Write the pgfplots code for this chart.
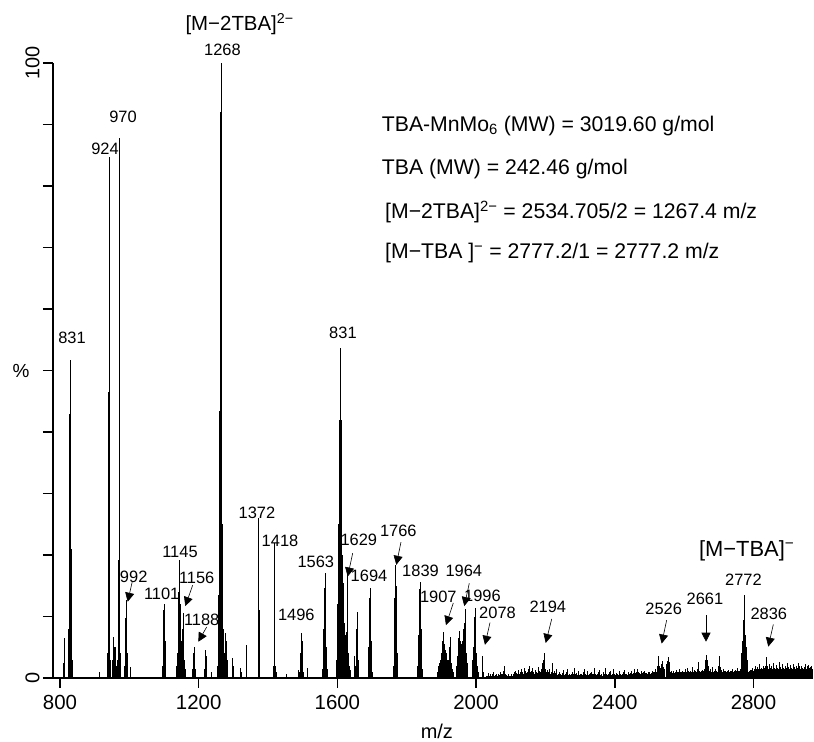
\documentclass[border=0pt]{standalone}
\usepackage{pgfplots}
\pgfplotsset{compat=1.18}
\usepackage{fontspec}
\setmainfont{Liberation Sans}
\usetikzlibrary{arrows.meta}
\newcommand{\fs}[1]{\fontsize{#1}{#1}\selectfont}
\begin{document}
\begin{tikzpicture}
\begin{axis}[
  at={(0,0)}, anchor=south west,
  scale only axis, width=760bp, height=615bp,
  xmin=779.8, xmax=2971.7, ymin=0, ymax=100,
  axis x line*=bottom, axis y line*=left,
  axis line style={line width=1.6bp, black},
  tick align=outside, major tick length=10bp,
  every tick/.style={line width=1.6bp, black},
  xtick={800,1200,1600,2000,2400,2800},
  xticklabels={800,1200,1600,2000,2400,2800},
  ytick={0,10,...,100},
  yticklabels={0,,,,,,,,,,100},
  xticklabel style={font=\fs{20.5}, yshift=-4bp},
  yticklabel style={font=\fs{20}, rotate=90, anchor=south},
  xlabel={m/z}, xlabel style={font=\fs{20}, at={(axis description cs:0.505,-0.086)}, anchor=center},
  ylabel={\%}, ylabel style={font=\fs{19}, rotate=-90, at={(axis description cs:-0.042,0.5)}, anchor=center},
  clip=false,
]
% isotope clusters
\addplot[ycomb, no markers, line width=0.65bp, black] table {
810 2.5
812 6.5
813 3
824 3
825 8
826 21
827 30
828 43
829 43
830 43
831 51.7
832 21
833 12
834 6
835 3
836 1.5
913 1
936 2
937 4
938 9.4
939 20
940 46.5
941 84.7
942 46.5
943 9
944 3
952 3
953 5
954 6.7
955 5
957 4
958 5
959 5
960 4
962 2
966 3
967 8
968 19.2
969 19.2
970 87.8
971 19
972 10
973 4
974 2
986 2
987 4
988 9.8
989 9.8
990 12.7
991 9
992 5.7
993 4
994 2
1002 1.8
1096 2
1097 5
1098 9
1099 11
1100 12
1101 12
1102 10
1103 6
1104 3
1105 1.5
1136 2
1138 4
1140 7
1141 10
1142 14
1143 16.4
1144 16.4
1145 19.2
1146 12
1147 9
1148 7
1149 6
1150 6
1151 5
1152 6
1153 7
1154 8
1155 9
1156 10.5
1157 6
1158 3
1160 1.5
1182 1.5
1184 3
1185 4
1186 5
1187 4.5
1188 3
1189 1.5
1216 1.5
1218 3
1219 4
1220 4.5
1221 3.5
1222 2
1223 1
1235 1
1255 2
1256 4
1257 8
1258 13.5
1259 20
1260 43.4
1261 60
1262 92
1263 92
1264 100
1265 92
1266 43.4
1267 25
1268 13.5
1269 10
1270 8
1271 6
1272 5
1274 4
1276 5
1277 6
1278 7.3
1279 6
1280 4
1282 3
1284 2
1296 1.5
1298 3.2
1299 2
1320 1.6
1322 1
1337 1
1338 5.4
1371 3
1372 11
1373 26
1374 11
1375 3
1416 2
1417 8.3
1418 21.9
1419 8.3
1420 2
1422 1.8
1423 1
1452 0.6
1487 1.3
1490 1
1492 2
1494 4
1495 6
1496 7
1497 7.3
1498 6
1499 4
1500 2.5
1502 1
1513 1.6
1556 1.5
1558 3
1559 5
1560 8
1561 11.5
1562 14.6
1563 14.6
1564 17
1565 11.5
1566 8
1567 5
1568 3
1570 1.5
1598 3
1600 8
1601 12
1602 16
1603 20.8
1604 25
1605 30
1606 36.6
1607 42
1608 42
1609 53.7
1610 42
1611 36.6
1612 25
1613 20
1614 16
1615 12
1616 15.4
1617 10
1618 13
1619 9
1620 8
1622 7
1624 6
1626 5
1627 7.5
1628 8
1629 17.2
1630 6
1632 4
1634 2
1638 1.3
1648 3.6
1652 2
1654 5.7
1655 6
1656 8
1657 10.7
1658 6
1659 3
1660 1.5
1688 2
1690 5
1691 8
1692 11
1693 13
1694 14.6
1695 12
1696 9
1697 6
1698 4
1699 2
1701 1
1761 2
1763 5
1764 9
1765 13
1766 16
1767 17
1768 18.4
1769 15
1770 11
1771 7
1772 4
1774 2
1831 2
1833 4
1834 7
1835 10
1836 13
1837 14.5
1838 15.6
1839 14
1840 11
1841 8
1842 5
1843 3
1845 1.5
1888 1
1890 2
1893 2.5
1896 3
1899 3.5
1901 4
1903 6
1905 7.4
1907 5.5
1909 4
1911 4.5
1913 3.5
1915 4
1917 3
1919 2.5
1921 3
1923 5
1925 6.7
1927 4
1929 2.5
1931 1.5
1933 1
1942 1
1944 2
1946 3.5
1948 5
1950 6.5
1952 7.7
1954 6
1956 5
1958 5.5
1960 6
1962 7
1964 8
1966 9
1968 11.2
1970 6
1972 4
1974 2.5
1976 1
1988 1.5
1990 3
1992 5
1994 7
1995 9
1996 10
1997 11.4
1998 8
1999 6
2000 4
2002 3
2004 2
2006 1
2018 1.5
2019 3.6
2020 1
2188 1.5
2190 2
2192 2.5
2194 3
2196 4
2198 2.5
2200 1.5
2522 1.5
2524 2
2526 2.4
2527 3.6
2529 2
2531 1.6
2534 2.2
2537 2.8
2540 1.8
2544 1.5
2548 2.2
2551 2.8
2554 3.4
2556 2.6
2558 1.6
2656 1.2
2658 1.5
2660 2.5
2662 3
2664 3.5
2665 3.7
2667 3
2669 2
2671 1
2760 1.2
2762 1.5
2764 2.5
2766 4
2768 6
2770 8
2772 9.4
2773 9.4
2774 13.5
2775 9
2777 7
2779 5
2781 3
2783 2
2785 1
};
% baseline noise
\addplot[ycomb, no markers, line width=0.5bp, black] table {
2030 0.4
2034 0.8
2038 0.3
2042 0.6
2046 0.5
2050 0.9
2054 0.4
2058 0.7
2062 0.3
2066 0.5
2070 1.0
2074 0.6
2078 1.2
2080 2.0
2082 1.0
2086 0.5
2090 0.4
2094 0.7
2098 0.3
2102 0.6
2106 0.5
2110 0.9
2114 1.1
2118 0.6
2122 1.3
2126 0.8
2130 1.5
2134 1.0
2138 1.7
2142 1.2
2146 0.8
2150 1.4
2154 1.9
2158 1.1
2162 1.6
2166 0.9
2170 1.3
2174 1.0
2178 1.8
2182 1.2
2186 1.0
2204 1.3
2208 0.9
2212 1.4
2216 1.0
2221 2.4
2224 1.2
2228 0.8
2232 1.5
2236 0.6
2240 1.0
2244 0.5
2248 0.8
2252 1.3
2256 0.6
2260 0.9
2264 1.4
2268 0.7
2272 0.5
2276 1.0
2280 0.6
2284 1.6
2288 0.8
2292 0.5
2296 1.1
2300 0.7
2304 0.4
2308 0.9
2312 1.5
2316 0.6
2320 1.2
2324 0.5
2328 0.8
2332 1.0
2336 0.6
2340 1.7
2344 0.7
2348 0.5
2352 0.9
2356 1.3
2360 0.6
2364 0.4
2368 1.0
2372 1.6
2376 0.7
2380 0.5
2384 0.9
2388 1.2
2392 0.6
2396 1.4
2400 0.5
2404 0.8
2408 0.4
2412 1.1
2416 0.6
2420 0.5
2424 0.9
2428 1.3
2432 0.7
2436 0.5
2440 1.0
2444 0.6
2448 1.2
2452 0.8
2456 1.4
2460 0.7
2464 1.5
2468 0.9
2472 0.6
2476 1.1
2480 0.7
2484 1.2
2488 0.8
2492 0.6
2496 1.0
2500 0.8
2504 0.6
2508 1.1
2512 0.9
2516 1.4
2520 1.0
2562 1.2
2566 0.8
2570 1.1
2574 0.9
2578 1.3
2582 1.0
2586 1.5
2590 0.8
2594 1.2
2598 0.9
2602 1.4
2606 1.0
2610 1.6
2614 0.9
2618 1.2
2622 1.8
2626 1.0
2630 1.3
2634 0.9
2638 1.5
2641 2.6
2644 1.2
2648 0.9
2652 1.3
2674 1.4
2678 1.0
2682 1.8
2686 1.2
2690 1.5
2694 1.1
2697 2.0
2700 3.6
2703 1.8
2706 1.3
2710 1.0
2714 1.4
2718 1.2
2722 0.9
2726 1.3
2730 1.0
2734 1.2
2738 1.5
2742 0.9
2746 1.3
2750 1.1
2754 1.6
2758 1.2
2788 1.0
2791 1.3
2794 0.9
2797 1.6
2800 1.2
2803 1.5
2806 2.0
2809 1.4
2812 1.8
2815 1.2
2818 2.2
2821 1.6
2824 1.4
2827 2.0
2830 1.7
2833 1.9
2836 2.6
2838 3.4
2840 2.0
2843 1.5
2846 2.2
2849 1.6
2852 1.9
2855 1.3
2858 2.4
2861 1.7
2864 1.4
2867 2.1
2870 1.6
2873 2.6
2876 1.8
2879 1.5
2882 2.2
2885 1.7
2888 1.3
2891 2.0
2894 1.6
2897 2.4
2900 1.8
2903 1.4
2906 2.1
2909 1.7
2912 1.3
2915 2.3
2918 1.8
2921 1.5
2924 2.0
2927 1.6
2930 2.5
2933 1.9
2936 1.4
2939 2.0
2942 1.6
2945 1.8
2948 2.2
2951 1.5
2954 1.9
2957 2.1
2960 1.6
2963 1.8
2966 2.0
2969 1.5
};
% dense low baseline
\addplot[ycomb, no markers, line width=0.5bp, black] table {
2032 0.3
2036 0.5
2040 0.4
2044 0.3
2048 0.6
2052 0.4
2056 0.5
2060 0.3
2064 0.6
2068 0.4
2072 0.5
2076 0.7
2084 0.6
2088 0.4
2092 0.5
2096 0.3
2100 0.5
2104 0.4
2108 0.6
2112 0.5
2116 0.8
2120 0.6
2124 0.7
2128 0.9
2132 0.8
2136 0.7
2140 0.9
2144 0.8
2148 1.0
2152 0.7
2156 0.9
2160 0.8
2164 1.0
2168 0.7
2172 0.9
2176 0.8
2180 1.0
2184 0.7
2202 0.9
2206 0.7
2210 0.8
2214 0.6
2218 0.9
2222 0.8
2226 0.6
2230 0.7
2234 0.5
2238 0.7
2242 0.6
2246 0.5
2250 0.7
2254 0.5
2258 0.6
2262 0.8
2266 0.5
2270 0.6
2274 0.7
2278 0.5
2282 0.6
2286 0.7
2290 0.4
2294 0.6
2298 0.5
2302 0.6
2306 0.5
2310 0.7
2314 0.6
2318 0.5
2322 0.7
2326 0.6
2330 0.5
2334 0.7
2338 0.6
2342 0.8
2346 0.5
2350 0.6
2354 0.7
2358 0.5
2362 0.6
2366 0.5
2370 0.7
2374 0.6
2378 0.5
2382 0.7
2386 0.6
2390 0.5
2394 0.7
2398 0.6
2402 0.5
2406 0.6
2410 0.5
2414 0.7
2418 0.5
2422 0.6
2426 0.7
2430 0.6
2434 0.5
2438 0.7
2442 0.6
2446 0.8
2450 0.6
2454 0.7
2458 0.8
2462 0.9
2466 0.7
2470 0.8
2474 0.7
2478 0.8
2482 0.9
2486 0.7
2490 0.8
2494 0.7
2498 0.9
2502 0.7
2506 0.8
2510 0.7
2514 0.9
2518 0.8
2560 0.9
2564 0.8
2568 1.0
2572 0.8
2576 0.9
2580 1.0
2584 0.8
2588 1.0
2592 0.9
2596 1.1
2600 0.9
2604 1.0
2608 0.9
2612 1.1
2616 1.0
2620 0.9
2624 1.1
2628 1.0
2632 1.2
2636 1.0
2640 1.1
2646 1.0
2650 1.1
2654 1.0
2672 1.1
2676 1.0
2680 1.2
2684 1.0
2688 1.1
2692 1.2
2696 1.0
2702 1.1
2704 1.0
2708 1.2
2712 1.0
2716 1.1
2720 1.0
2724 1.1
2728 0.9
2732 1.0
2736 1.1
2740 1.0
2744 1.1
2748 0.9
2752 1.0
2756 1.1
2787 0.9
2789 1.2
2792 1.1
2795 1.3
2798 1.1
2801 1.3
2804 1.2
2807 1.4
2810 1.2
2813 1.4
2816 1.3
2819 1.5
2822 1.2
2825 1.4
2828 1.3
2831 1.5
2834 1.4
2837 1.6
2841 1.3
2844 1.5
2847 1.4
2850 1.3
2853 1.5
2856 1.2
2859 1.4
2862 1.3
2865 1.5
2868 1.2
2871 1.4
2874 1.3
2877 1.5
2880 1.2
2883 1.4
2886 1.3
2889 1.5
2892 1.2
2895 1.4
2898 1.3
2901 1.5
2904 1.2
2907 1.4
2910 1.3
2913 1.5
2916 1.2
2919 1.4
2922 1.3
2925 1.5
2928 1.2
2931 1.4
2934 1.3
2937 1.5
2940 1.2
2943 1.4
2946 1.3
2949 1.5
2952 1.2
2955 1.4
2958 1.3
2961 1.5
2964 1.2
2967 1.4
2970 1.3
};
% peak labels
\begin{scope}[every node/.style={font=\fs{16.5}, inner sep=0pt}]
\node at (axis cs:1268.6,102.1) {1268};
\node at (axis cs:981.7,91.2) {970};
\node at (axis cs:929.8,86.0) {924};
\node at (axis cs:834.6,55.3) {831};
\node at (axis cs:1616,56.1) {831};
\node at (axis cs:1012.5,16.4) {992};
\node at (axis cs:1093.3,13.7) {1101};
\node at (axis cs:1146,20.5) {1145};
\node at (axis cs:1194.2,16.3) {1156};
\node at (axis cs:1208.7,9.4) {1188};
\node at (axis cs:1368.1,26.8) {1372};
\node at (axis cs:1434.5,22.3) {1418};
\node at (axis cs:1481.5,10.2) {1496};
\node at (axis cs:1537.7,18.9) {1563};
\node at (axis cs:1661.7,22.4) {1629};
\node at (axis cs:1691.2,16.6) {1694};
\node at (axis cs:1775.7,23.9) {1766};
\node at (axis cs:1839.7,17.4) {1839};
\node at (axis cs:1891.0,13.2) {1907};
\node at (axis cs:1964.6,17.4) {1964};
\node at (axis cs:2018.5,13.3) {1996};
\node at (axis cs:2061.8,10.6) {2078};
\node at (axis cs:2206.8,11.5) {2194};
\node at (axis cs:2541.1,11.3) {2526};
\node at (axis cs:2660.2,12.8) {2661};
\node at (axis cs:2771.2,15.9) {2772};
\node at (axis cs:2844.2,10.4) {2836};
\end{scope}
% arrows
\begin{scope}[line width=0.6bp, -{Triangle[width=9bp,length=9bp]}]
\draw (axis cs:1008.5,15.7) -- (axis cs:995.2,12.4);
\draw (axis cs:1182.7,15.1) -- (axis cs:1161.4,11.7);
\draw (axis cs:1223.1,8.3) -- (axis cs:1198.9,5.9);
\draw (axis cs:1644.1,20.3) -- (axis cs:1629.7,16.5);
\draw (axis cs:1783.4,22.1) -- (axis cs:1769.9,18.4);
\draw (axis cs:1934.3,12.2) -- (axis cs:1913.2,8.6);
\draw (axis cs:1980.4,15.4) -- (axis cs:1966.0,11.7);
\draw (axis cs:2040.1,9.0) -- (axis cs:2025.7,5.4);
\draw (axis cs:2218.1,9.6) -- (axis cs:2200.8,5.7);
\draw (axis cs:2549.6,9.4) -- (axis cs:2535.3,5.6);
\draw (axis cs:2663.1,10.2) -- (axis cs:2663.1,5.9);
\draw (axis cs:2857.2,8.7) -- (axis cs:2842.8,5.1);
\end{scope}
% ion annotations
\node[font=\fs{20.5}, inner sep=0pt] at (axis cs:1318,106.3) {[M−2TBA]\textsuperscript{2−}};
\node[font=\fs{22}, inner sep=0pt] at (axis cs:2780.4,20.7) {[M−TBA]\textsuperscript{−}};
\begin{scope}[every node/.style={font=\fs{21.3}, inner sep=0pt, anchor=west}]
\node at (axis cs:1727.8,89.8) {TBA-MnMo\textsubscript{6} (MW) = 3019.60 g/mol};
\node at (axis cs:1727.8,82.8) {TBA (MW) = 242.46 g/mol};
\node at (axis cs:1737.3,75.8) {[M−2TBA]\textsuperscript{2−} = 2534.705/2 = 1267.4 m/z};
\node at (axis cs:1737.3,69.1) {[M−TBA ]\textsuperscript{−} = 2777.2/1 = 2777.2 m/z};
\end{scope}
\end{axis}
\pgfresetboundingbox
\path[use as bounding box] (-53bp,-64bp) rectangle (761bp,678bp);
\end{tikzpicture}
\end{document}
